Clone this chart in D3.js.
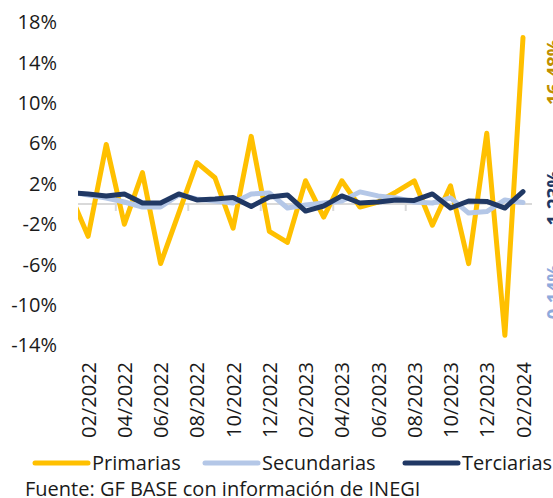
<!DOCTYPE html>
<html>
<head>
<meta charset="utf-8">
<script src="https://cdn.jsdelivr.net/npm/d3@7"></script>
<style>
  body { margin: 0; background: #fff; }
  text { font-family: "Open Sans", "Noto Sans", sans-serif; }
</style>
</head>
<body>
<div id="chart"></div>
<script>
// Data
const months = ["01/2022","02/2022","03/2022","04/2022","05/2022","06/2022","07/2022","08/2022",
  "09/2022","10/2022","11/2022","12/2022","01/2023","02/2023","03/2023","04/2023","05/2023",
  "06/2023","07/2023","08/2023","09/2023","10/2023","11/2023","12/2023","01/2024","02/2024"];
const labelMonths = ["02/2022","04/2022","06/2022","08/2022","10/2022","12/2022","02/2023",
  "04/2023","06/2023","08/2023","10/2023","12/2023","02/2024"];
const primarias = [1.0, -3.2, 5.9, -2.0, 3.1, -5.9, -0.9, 4.1, 2.6, -2.4, 6.7, -2.7, -3.8,
  2.3, -1.3, 2.3, -0.3, 0.2, 1.2, 2.3, -2.1, 1.8, -5.9, 7.0, -13.0, 16.48];
const secundarias = [1.2, 0.9, 0.6, 0.2, -0.3, -0.3, 0.9, 0.5, 0.3, 0.1, 1.0, 1.1, -0.4,
  -0.1, 0.1, 0.3, 1.2, 0.8, 0.6, 0.2, 0.1, 0.6, -0.9, -0.75, 0.4, 0.14];
const terciarias = [1.1, 1.0, 0.8, 1.0, 0.1, 0.1, 1.0, 0.4, 0.5, 0.65, -0.25, 0.7, 0.9,
  -0.7, -0.2, 0.8, 0.1, 0.2, 0.4, 0.35, 1.0, -0.4, 0.3, 0.25, -0.4, 1.23];
const yTicks = [-14, -10, -6, -2, 2, 6, 10, 14, 18];
const seriesNames = ["Primarias", "Secundarias", "Terciarias"];
const seriesColors = ["#FFC000", "#B4C7E7", "#203864"];
const labelColors = ["#BF9000", "#8FAADC", "#203864"];

const W = 553, H = 498;
const plotLeft = 78, plotRight = 532;

const svg = d3.select("#chart").append("svg")
  .attr("width", W).attr("height", H);

// Scales
const x = d3.scalePoint().domain(months).range([70, 523]);
const y = d3.scaleLinear().domain([-14, 18]).range([345.4, 22.2]);
const xi = d3.scaleLinear().domain([0, months.length - 1]).range([70, 523]);

// Y axis labels
const yAxis = svg.append("g")
  .attr("transform", "translate(57,0)")
  .call(d3.axisLeft(y).tickValues(yTicks).tickSize(0).tickPadding(0).tickFormat(d => d + "%"));
yAxis.select(".domain").remove();
yAxis.selectAll("text")
  .attr("font-size", 20)
  .attr("fill", "#1a1a1a")
  .style("font-family", "'Open Sans', sans-serif");

// Zero line and tick marks at category boundaries
svg.append("line")
  .attr("x1", plotLeft).attr("x2", plotRight)
  .attr("y1", y(0)).attr("y2", y(0))
  .attr("stroke", "#D9D9D9").attr("stroke-width", 2);
const tickAxis = svg.append("g")
  .attr("transform", `translate(0,${y(0)})`)
  .call(d3.axisBottom(xi).tickValues([2.5, 6.5, 10.5, 14.5, 18.5, 22.5]).tickSize(7).tickFormat(""));
tickAxis.select(".domain").remove();
tickAxis.selectAll("line").attr("stroke", "#D9D9D9").attr("stroke-width", 2);

// X axis labels
const xAxis = svg.append("g")
  .attr("transform", "translate(0,362)")
  .call(d3.axisBottom(x).tickValues(labelMonths).tickSize(0));
xAxis.select(".domain").remove();
xAxis.selectAll("text")
  .attr("transform", "rotate(-90)")
  .attr("x", 0).attr("y", 0).attr("dy", "0.35em")
  .attr("text-anchor", "end")
  .attr("font-size", 20)
  .attr("fill", "#1a1a1a")
  .style("font-family", "'Open Sans', sans-serif");

// Clip
svg.append("clipPath").attr("id", "plotclip")
  .append("rect").attr("x", plotLeft).attr("y", 0)
  .attr("width", plotRight - plotLeft).attr("height", 360);

const line = d3.line()
  .x((d, i) => x(months[i]))
  .y(d => y(d));

const allSeries = [primarias, secundarias, terciarias];
const lines = svg.append("g").attr("clip-path", "url(#plotclip)");
allSeries.forEach((s, k) => {
  lines.append("path")
    .datum(s)
    .attr("d", line)
    .attr("fill", "none")
    .attr("stroke", seriesColors[k])
    .attr("stroke-width", 5)
    .attr("stroke-linejoin", "round")
    .attr("stroke-linecap", "round");
});

// Last-value labels on the right (rotated)
const endLabelY = [72, 198, 292];
const endOrder = [0, 2, 1];
endOrder.forEach((k, j) => {
  const v = allSeries[k][allSeries[k].length - 1];
  svg.append("text")
    .attr("transform", `translate(561,${endLabelY[j]}) rotate(-90)`)
    .attr("text-anchor", "middle")
    .attr("font-size", 19)
    .attr("font-weight", "bold")
    .attr("fill", labelColors[k])
    .text(v.toFixed(2) + "%");
});

// Legend
const legendX = [35, 205, 405];
const legend = svg.selectAll(".legend")
  .data(seriesNames)
  .enter()
  .append("g")
  .attr("class", "legend")
  .attr("transform", (d, i) => `translate(${legendX[i]},463)`);
legend.append("line")
  .attr("x1", 0).attr("x2", 53)
  .attr("y1", 0).attr("y2", 0)
  .attr("stroke", (d, i) => seriesColors[i])
  .attr("stroke-width", 5)
  .attr("stroke-linecap", "round");
legend.append("text")
  .attr("x", 57).attr("y", 0).attr("dy", "0.35em")
  .attr("font-size", 20)
  .attr("fill", "#1a1a1a")
  .text(d => d);

// Source
svg.append("text")
  .attr("x", 25).attr("y", 489).attr("dy", "0.35em")
  .attr("font-size", 20)
  .attr("fill", "#1a1a1a")
  .text("Fuente: GF BASE con información de INEGI");
</script>
</body>
</html>
